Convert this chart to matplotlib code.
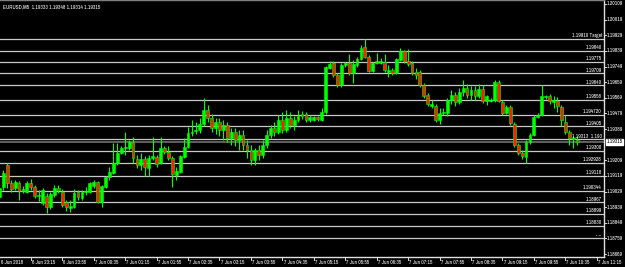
import matplotlib
matplotlib.use("Agg")
import matplotlib.pyplot as plt
from matplotlib.transforms import blended_transform_factory
from matplotlib import font_manager

names = {f.name for f in font_manager.fontManager.ttflist}
narrow = [f.name for f in font_manager.fontManager.ttflist
          if "Narrow" in f.name or "Condensed" in f.name]
if "Liberation Sans Narrow" in names:
    FONT, STRETCH = "Liberation Sans Narrow", "normal"
elif narrow:
    FONT, STRETCH = narrow[0], "normal"
else:
    FONT, STRETCH = "Liberation Sans", "normal"
FS = 3.9

# ---------------- data ----------------
opens = [1.18997,1.19055,1.19182,1.19078,1.19049,1.19078,1.19032,1.19026,1.19078,1.19055,
         1.19003,1.18963,1.19003,1.18940,1.19009,1.19049,1.19026,1.18969,1.18934,1.18940,
         1.19026,1.18992,1.19026,1.19026,1.19061,1.19084,1.18969,1.19055,1.19113,1.19136,
         1.19193,1.19251,1.19280,1.19280,1.19314,1.19216,1.19182,1.19216,1.19164,1.19222,
         1.19228,1.19193,1.19280,1.19257,1.19222,1.19124,1.19141,1.19228,1.19285,1.19366,
         1.19377,1.19383,1.19418,1.19498,1.19452,1.19395,1.19429,1.19383,1.19412,1.19337,
         1.19372,1.19326,1.19354,1.19297,1.19268,1.19210,1.19268,1.19239,1.19297,1.19354,
         1.19395,1.19372,1.19441,1.19383,1.19452,1.19412,1.19441,1.19475,1.19475,1.19441,
         1.19441,1.19458,1.19441,1.19487,1.19740,1.19769,1.19700,1.19642,1.19758,1.19769,
         1.19712,1.19758,1.19792,1.19861,1.19804,1.19723,1.19769,1.19769,1.19775,1.19717,
         1.19729,1.19712,1.19786,1.19838,1.19781,1.19769,1.19717,1.19717,1.19642,1.19585,
         1.19521,1.19521,1.19441,1.19481,1.19481,1.19556,1.19585,1.19544,1.19602,1.19625,
         1.19585,1.19614,1.19579,1.19619,1.19550,1.19550,1.19556,1.19660,1.19544,1.19481,
         1.19516,1.19418,1.19297,1.19251,1.19228,1.19314,1.19354,1.19458,1.19470,1.19573,
         1.19579,1.19544,1.19550,1.19516,1.19429,1.19372,1.19331,1.19326]
highs = [1.19072,1.19153,1.19193,1.19095,1.19095,1.19090,1.19061,1.19090,1.19101,1.19066,
         1.19038,1.19049,1.19020,1.19026,1.19066,1.19066,1.19043,1.18980,1.18980,1.19043,
         1.19038,1.19038,1.19055,1.19084,1.19095,1.19090,1.19066,1.19118,1.19170,1.19308,
         1.19308,1.19291,1.19372,1.19326,1.19343,1.19239,1.19251,1.19233,1.19239,1.19343,
         1.19239,1.19343,1.19291,1.19291,1.19233,1.19170,1.19239,1.19337,1.19400,1.19441,
         1.19429,1.19452,1.19568,1.19527,1.19475,1.19452,1.19452,1.19441,1.19429,1.19395,
         1.19395,1.19383,1.19383,1.19326,1.19297,1.19280,1.19297,1.19326,1.19383,1.19412,
         1.19429,1.19470,1.19487,1.19498,1.19487,1.19464,1.19498,1.19493,1.19487,1.19470,
         1.19464,1.19464,1.19510,1.19752,1.19781,1.19781,1.19712,1.19769,1.19775,1.19821,
         1.19786,1.19804,1.19873,1.19907,1.19815,1.19775,1.19827,1.19798,1.19821,1.19758,
         1.19740,1.19798,1.19856,1.19844,1.19850,1.19781,1.19740,1.19729,1.19654,1.19596,
         1.19556,1.19533,1.19510,1.19510,1.19568,1.19614,1.19602,1.19625,1.19671,1.19648,
         1.19637,1.19637,1.19648,1.19642,1.19585,1.19568,1.19671,1.19671,1.19556,1.19527,
         1.19527,1.19429,1.19308,1.19268,1.19326,1.19366,1.19470,1.19481,1.19642,1.19585,
         1.19591,1.19579,1.19573,1.19527,1.19470,1.19383,1.19349,1.19349]
lows = [1.18980,1.19038,1.19049,1.19026,1.19038,1.18980,1.19020,1.19020,1.19038,1.18992,
        1.18974,1.18951,1.18905,1.18928,1.18997,1.19020,1.18940,1.18917,1.18911,1.18934,
        1.18980,1.18980,1.19009,1.19020,1.19049,1.18963,1.18940,1.19049,1.19095,1.19130,
        1.19182,1.19245,1.19239,1.19268,1.19193,1.19164,1.19153,1.19118,1.19118,1.19210,
        1.19170,1.19187,1.19245,1.19210,1.19055,1.19095,1.19136,1.19222,1.19280,1.19349,
        1.19360,1.19366,1.19406,1.19429,1.19372,1.19360,1.19349,1.19326,1.19314,1.19297,
        1.19291,1.19268,1.19268,1.19222,1.19182,1.19182,1.19210,1.19222,1.19280,1.19337,
        1.19349,1.19360,1.19366,1.19372,1.19395,1.19383,1.19429,1.19447,1.19429,1.19429,
        1.19435,1.19435,1.19435,1.19475,1.19735,1.19688,1.19631,1.19631,1.19746,1.19700,
        1.19654,1.19746,1.19786,1.19798,1.19717,1.19717,1.19763,1.19763,1.19717,1.19688,
        1.19700,1.19706,1.19781,1.19769,1.19752,1.19700,1.19677,1.19631,1.19568,1.19521,
        1.19510,1.19429,1.19418,1.19470,1.19464,1.19533,1.19521,1.19533,1.19579,1.19568,
        1.19556,1.19556,1.19568,1.19539,1.19527,1.19544,1.19544,1.19544,1.19470,1.19475,
        1.19412,1.19285,1.19239,1.19216,1.19193,1.19303,1.19349,1.19452,1.19464,1.19562,
        1.19533,1.19510,1.19487,1.19406,1.19360,1.19297,1.19280,1.19297]
closes = [1.19049,1.19136,1.19078,1.19043,1.19084,1.19032,1.19043,1.19078,1.19055,1.19003,
          1.19009,1.19038,1.18940,1.19015,1.19049,1.19038,1.18951,1.18940,1.18946,1.19020,
          1.18997,1.19026,1.19032,1.19078,1.19084,1.18969,1.19061,1.19113,1.19141,1.19193,
          1.19251,1.19280,1.19285,1.19314,1.19222,1.19182,1.19216,1.19170,1.19222,1.19233,
          1.19187,1.19280,1.19257,1.19222,1.19130,1.19147,1.19233,1.19285,1.19366,1.19372,
          1.19383,1.19418,1.19498,1.19452,1.19395,1.19429,1.19383,1.19412,1.19337,1.19372,
          1.19326,1.19354,1.19297,1.19268,1.19210,1.19268,1.19239,1.19297,1.19354,1.19395,
          1.19372,1.19441,1.19383,1.19452,1.19412,1.19441,1.19464,1.19464,1.19441,1.19458,
          1.19458,1.19447,1.19487,1.19746,1.19763,1.19700,1.19642,1.19758,1.19769,1.19712,
          1.19763,1.19792,1.19856,1.19804,1.19723,1.19769,1.19781,1.19781,1.19729,1.19729,
          1.19712,1.19792,1.19838,1.19781,1.19763,1.19712,1.19700,1.19642,1.19579,1.19533,
          1.19533,1.19441,1.19481,1.19487,1.19556,1.19585,1.19544,1.19602,1.19625,1.19585,
          1.19614,1.19579,1.19619,1.19550,1.19579,1.19556,1.19660,1.19550,1.19481,1.19516,
          1.19424,1.19297,1.19251,1.19233,1.19314,1.19354,1.19458,1.19470,1.19579,1.19579,
          1.19550,1.19556,1.19521,1.19441,1.19372,1.19337,1.19337,1.19315]

level_prices = [1.19910, 1.19840, 1.19775, 1.19709, 1.19640, 1.19558, 1.19472, 1.19405,
                1.19330, 1.19262, 1.19193, 1.19118, 1.19034, 1.18967, 1.18899, 1.18830, 1.18761]
level_labels = ["1.19910 Target", "1.19840", "1.19775", "1.19709", "1.19640", "1.19558",
                "1.194720", "1.19405", "1.19313  1.193", "1.19300", "1.192928", "1.19118",
                "1.190344", "1.18967", "1.18899", "1.18830", "....."]

price_ticks = [1.20109, 1.20019, 1.19929, 1.19839, 1.19749, 1.19659, 1.19569, 1.19479,
               1.19389, 1.19209, 1.19119, 1.19029, 1.18939, 1.18849, 1.18759, 1.18669]
bid_price = 1.19315
header = "EURUSD,M5  1.19333 1.19348 1.19314 1.19315"

time_labels = ["6 Jun 2018", "6 Jun 23:15", "6 Jun 23:55", "7 Jun 00:35", "7 Jun 01:15",
               "7 Jun 01:55", "7 Jun 02:35", "7 Jun 03:15", "7 Jun 03:55", "7 Jun 04:35",
               "7 Jun 05:15", "7 Jun 05:55", "7 Jun 06:35", "7 Jun 07:15", "7 Jun 07:55",
               "7 Jun 08:35", "7 Jun 09:15", "7 Jun 09:55", "7 Jun 10:35", "7 Jun 11:15"]
time_label_bars = [0] + [8 * k for k in range(1, 20)]

# ---------------- figure ----------------
W, H = 625, 267
fig = plt.figure(figsize=(W / 100, H / 100), dpi=100, facecolor="black")
ax = fig.add_axes([0, 10 / H, 604 / W, 257 / H], facecolor="black")
px_per_bar = 3.93
x0 = 0.6 / px_per_bar
ax.set_xlim(x0, x0 + 604 / px_per_bar)
ax.set_ylim(1.18652, 1.20132)
ax.set_xticks([])
ax.set_yticks([])
ax.spines["left"].set_visible(False)
ax.spines["top"].set_color("#808080")
ax.spines["right"].set_color("#e0e0e0")
ax.spines["bottom"].set_color("#e0e0e0")
for s in ["top", "right", "bottom"]:
    ax.spines[s].set_linewidth(1.0)

tkw = dict(fontsize=FS, family=FONT, fontstretch=STRETCH)

# levels
for p, lab in zip(level_prices, level_labels):
    ax.axhline(p, color="#c8c8c8", lw=0.9, zorder=1)
    ax.text(x0 + 602 / px_per_bar, p + 0.00004, lab, ha="right", va="bottom",
            color="white", zorder=5, **tkw)
ax.axhline(bid_price, color="#707070", lw=1.2, zorder=1)

# candles
green = "#00ff00"
red = "#ff2000"
for i, (o, h, l, c) in enumerate(zip(opens, highs, lows, closes)):
    ax.vlines(i, l, h, color=green, lw=0.8, zorder=3)
    bot = min(o, c)
    ht = max(abs(c - o), 0.000012)
    fc = green if c >= o else red
    ax.bar(i, ht, bottom=bot, width=0.72, color=fc, edgecolor=green, linewidth=0.4, zorder=4)

# header
ax.text(0.005, 0.985, header, transform=ax.transAxes, ha="left", va="top",
        color="white", **tkw)

# right price axis
tr = blended_transform_factory(ax.transAxes, ax.transData)
for p in price_ticks:
    ax.text(1.0 + 2.5 / 604, p, f"{p:.5f}", transform=tr, ha="left", va="center",
            color="white", clip_on=False, **tkw)
    ax.plot([1.0, 1.0 + 2 / 604], [p, p], transform=tr, color="white", lw=0.6, clip_on=False)
ax.text(1.0 + 2.5 / 604, bid_price, f"{bid_price:.5f}", transform=tr, ha="left", va="center",
        color="black", clip_on=False,
        bbox=dict(boxstyle="square,pad=0.15", fc="white", ec="white"), **tkw)

# time axis
trx = blended_transform_factory(ax.transData, ax.transAxes)
for b, lab in zip(time_label_bars, time_labels):
    ax.text(b + 0.3, -0.012, lab, transform=trx, ha="left", va="top", color="white",
            clip_on=False, **tkw)
    ax.plot([b, b], [0, -0.012], transform=trx, color="white", lw=0.6, clip_on=False)

fig.savefig("out.png", dpi=100, facecolor="black")
